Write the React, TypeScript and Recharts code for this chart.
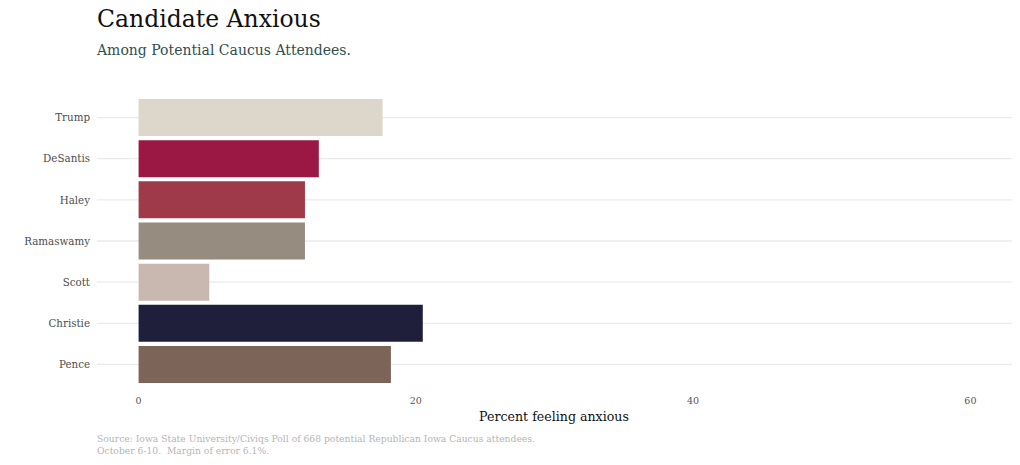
import React from 'react';
import { BarChart, Bar, XAxis, YAxis, CartesianGrid, Cell } from 'recharts';

const candidates = ['Trump', 'DeSantis', 'Haley', 'Ramaswamy', 'Scott', 'Christie', 'Pence'];
const anxiousPct = [17.6, 13.0, 12.0, 12.0, 5.1, 20.5, 18.2];
const barColors = ['#ddd6ca', '#9b1744', '#9f3a4a', '#968c80', '#c9b8b0', '#1f1f3b', '#7d6459'];
const xTicks = [0, 20, 40, 60];
const xDomain: [number, number] = [-3, 63];

const titleText = 'Candidate Anxious';
const subtitleText = 'Among Potential Caucus Attendees.';
const xLabelText = 'Percent feeling anxious';
const captionLines = [
  'Source: Iowa State University/Civiqs Poll of 668 potential Republican Iowa Caucus attendees.',
  'October 6-10.  Margin of error 6.1%.',
];

const FONT = '"DejaVu Serif", Georgia, serif';
const Y_PAD = 4;

const data = candidates.map((name, i) => ({ name, value: anxiousPct[i] }));

const gridRows = (props: any) => {
  const yAxis = props?.yAxis;
  if (yAxis && typeof yAxis.scale === 'function') {
    const bw = typeof yAxis.scale.bandwidth === 'function' ? yAxis.scale.bandwidth() : 0;
    const ys = candidates.map((c) => yAxis.scale(c) + bw / 2).filter((v) => Number.isFinite(v));
    if (ys.length === candidates.length) return ys;
  }
  const off = props?.offset || { top: 93, height: 296 };
  const band = (off.height - 2 * Y_PAD) / candidates.length;
  return candidates.map((_, i) => off.top + Y_PAD + band * (i + 0.5));
};

export default function App() {
  return (
    <div style={{ position: 'absolute', left: 0, top: 0, width: 1020, height: 465, background: '#fff' }}>
      <BarChart
        width={1020}
        height={465}
        data={data}
        layout="vertical"
        margin={{ top: 93, right: 8, bottom: 46, left: 0 }}
        barCategoryGap="5%"
        style={{ fontFamily: FONT }}
      >
        <CartesianGrid
          horizontal={true}
          vertical={false}
          stroke="#ebebeb"
          strokeWidth={1.3}
          horizontalCoordinatesGenerator={gridRows}
        />
        <XAxis
          type="number"
          domain={xDomain}
          ticks={xTicks}
          allowDataOverflow={true}
          axisLine={false}
          tickLine={false}
          tickSize={0}
          tickMargin={8}
          height={30}
          tick={{ fontSize: 9.5, fill: '#555', fontFamily: FONT }}
        />
        <YAxis
          type="category"
          dataKey="name"
          width={97}
          axisLine={false}
          tickLine={false}
          tickSize={0}
          tickMargin={7}
          padding={{ top: Y_PAD, bottom: Y_PAD }}
          tick={{ fontSize: 10.3, fill: '#4d4d4d', fontFamily: FONT }}
        />
        <Bar dataKey="value" isAnimationActive={false}>
          {data.map((d, i) => (
            <Cell key={d.name} fill={barColors[i]} />
          ))}
        </Bar>
      </BarChart>
      <svg
        width={1020}
        height={465}
        style={{ position: 'absolute', left: 0, top: 0, pointerEvents: 'none', fontFamily: FONT }}
      >
        <text x={97} y={27} fontSize={23.5} fill="#111">{titleText}</text>
        <text x={97} y={55} fontSize={14} fill="#2f4f4f">{subtitleText}</text>
        <text x={554} y={421} fontSize={12.6} fill="#111" textAnchor="middle">{xLabelText}</text>
        <text x={97} y={442} fontSize={9.2} fill="#b5b5b5" style={{ whiteSpace: 'pre' }}>{captionLines[0]}</text>
        <text x={97} y={454} fontSize={9.2} fill="#b5b5b5" style={{ whiteSpace: 'pre' }}>{captionLines[1]}</text>
      </svg>
    </div>
  );
}
